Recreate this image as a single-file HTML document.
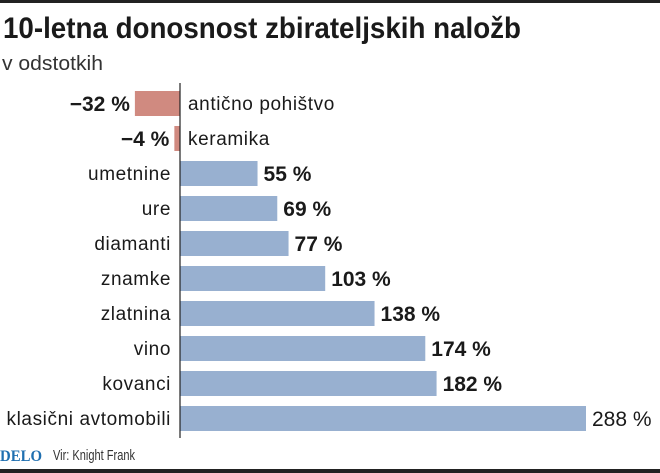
<!DOCTYPE html>
<html><head><meta charset="utf-8"><style>
html,body{margin:0;padding:0;background:#fff;}
svg{display:block;font-family:"Liberation Sans",sans-serif;}
</style></head><body>
<svg id="chart" width="660" height="473" viewBox="0 0 660 473" xmlns="http://www.w3.org/2000/svg">
<rect x="0" y="0" width="660" height="3" fill="#222"/>
<text x="3" y="38" font-size="30" font-weight="bold" fill="#1a1a1a" textLength="518" lengthAdjust="spacingAndGlyphs">10-letna donosnost zbirateljskih naložb</text>
<text x="2" y="70" font-size="20" fill="#333" textLength="101" lengthAdjust="spacingAndGlyphs">v odstotkih</text>
<g id="bars"></g>
<line x1="180" y1="83" x2="180" y2="438" stroke="#222" stroke-width="1.2"/>
<text x="0" y="461" font-size="16" font-weight="bold" fill="#1f6fb0" font-family="Liberation Serif,serif" textLength="42" lengthAdjust="spacingAndGlyphs">DELO</text>
<text x="53" y="460" font-size="15" fill="#333" textLength="82" lengthAdjust="spacingAndGlyphs">Vir: Knight Frank</text>
<rect x="0" y="469" width="660" height="4" fill="#222"/>
</svg>
<script>
const categories=["antično pohištvo","keramika","umetnine","ure","diamanti","znamke","zlatnina","vino","kovanci","klasični avtomobili"];
const values=[-32,-4,55,69,77,103,138,174,182,288];
const valueLabels=["−32 %","−4 %","55 %","69 %","77 %","103 %","138 %","174 %","182 %","288 %"];
const NS="http://www.w3.org/2000/svg";
const x0=180, scale=(586-180)/288;
const xs=v=>x0+v*scale;
const ys=i=>91+i*35;
const g=document.getElementById('bars');
function mk(t,a){const e=document.createElementNS(NS,t);for(const k in a)e.setAttribute(k,a[k]);return e;}
values.forEach((v,i)=>{
  const y=ys(i), neg=v<0;
  const r=mk('rect',{x:Math.min(xs(v),x0),y:y,width:Math.abs(xs(v)-x0),height:25,fill:neg?'#d08a80':'#98b0d0'});
  
  
  g.appendChild(r);
  const c=mk('text',{x:neg?x0+8:x0-9,y:y+19,'font-size':19,'letter-spacing':0.6,fill:'#1a1a1a','text-anchor':neg?'start':'end'});
  c.textContent=categories[i];
  
  
  g.appendChild(c);
  const last=i===values.length-1;
  const l=mk('text',{x:neg?xs(v)-5:xs(v)+6,y:y+20,'font-size':21,'font-weight':last?'normal':'bold',fill:'#1a1a1a','text-anchor':neg?'end':'start'});
  l.textContent=valueLabels[i];
  
  
  g.appendChild(l);
});
</script>
</body></html>
